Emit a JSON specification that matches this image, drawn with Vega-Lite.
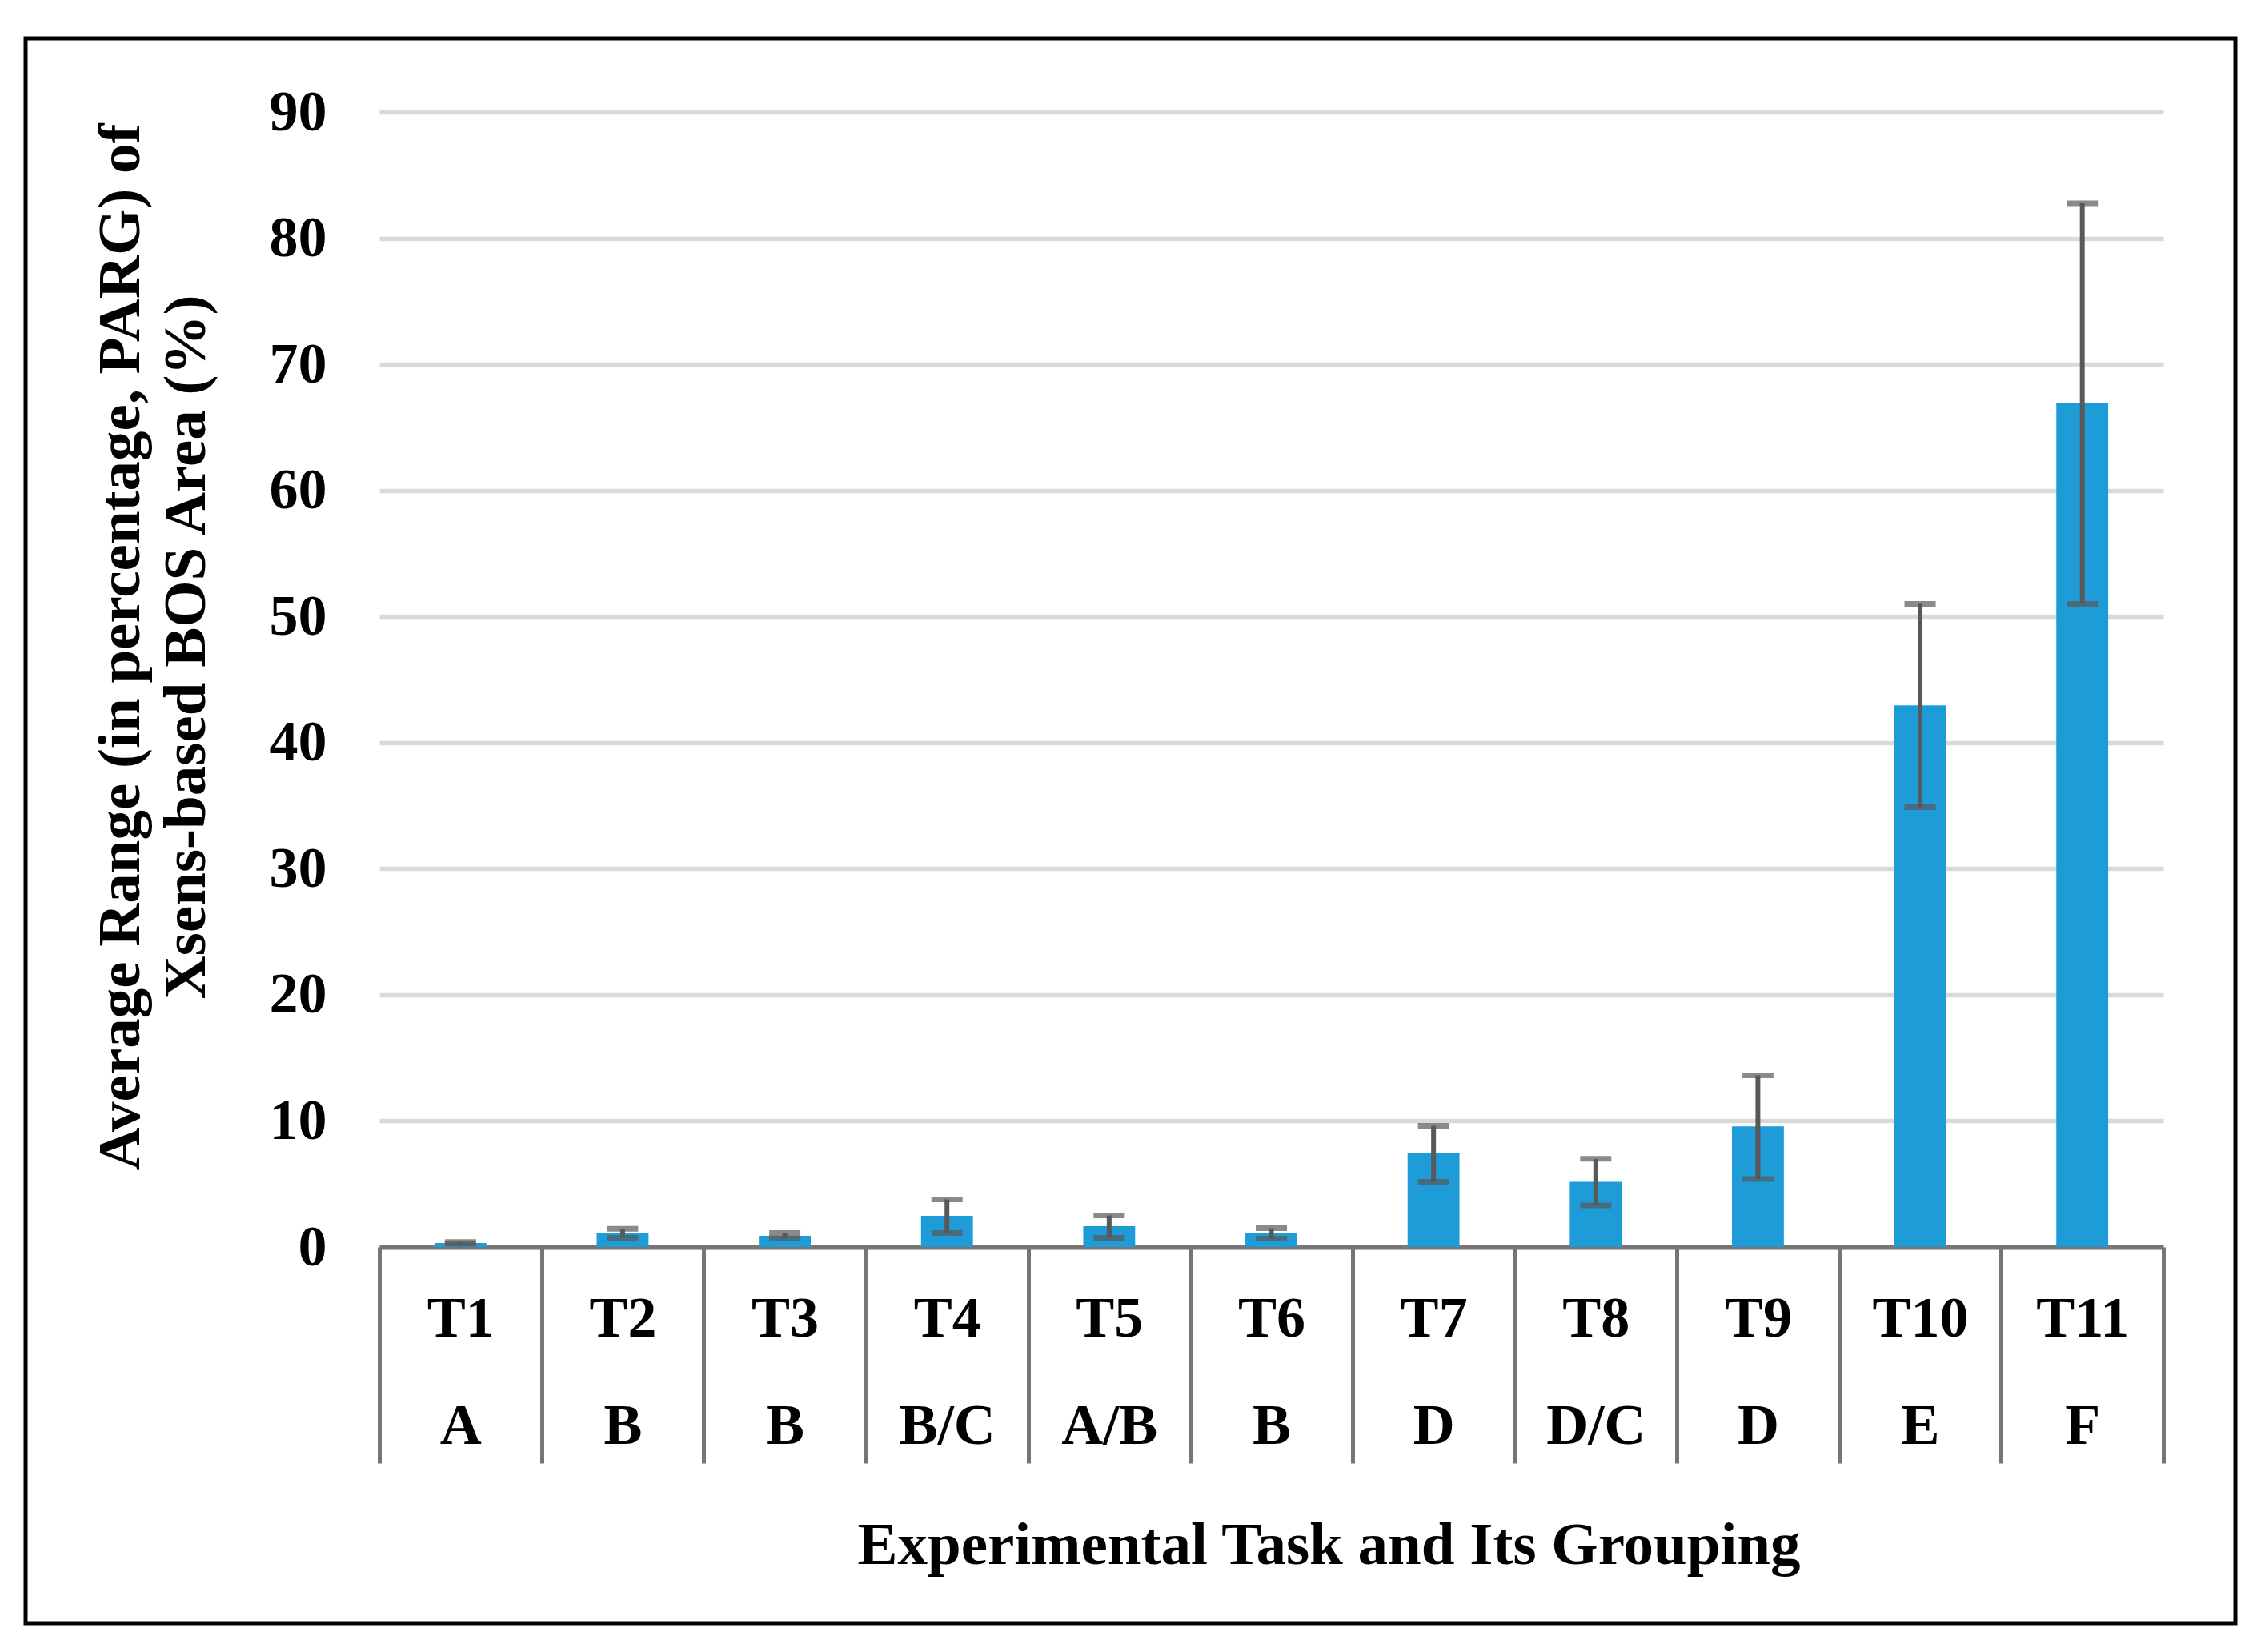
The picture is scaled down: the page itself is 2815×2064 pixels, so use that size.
{
  "$schema": "https://vega.github.io/schema/vega-lite/v6.json",
  "width": 2229,
  "height": 1418,
  "autosize": "none",
  "padding": {"left": 474, "top": 140, "right": 112, "bottom": 506},
  "background": "white",
  "config": {
    "view": {"stroke": null},
    "font": "Liberation Serif",
    "axis": {
      "labelFont": "Liberation Serif",
      "labelFontWeight": "bold",
      "labelFontSize": 72,
      "labelColor": "#000000",
      "titleFont": "Liberation Serif",
      "titleFontWeight": "bold",
      "titleFontSize": 75,
      "titleColor": "#000000"
    }
  },
  "data": {
    "values": [
      {"label": "T1|A", "task": "T1", "group": "A", "mean": 0.32, "lo": 0.25, "hi": 0.4},
      {"label": "T2|B", "task": "T2", "group": "B", "mean": 1.14, "lo": 0.73, "hi": 1.45},
      {"label": "T3|B", "task": "T3", "group": "B", "mean": 0.89, "lo": 0.69, "hi": 1.11},
      {"label": "T4|B/C", "task": "T4", "group": "B/C", "mean": 2.47, "lo": 1.11, "hi": 3.78},
      {"label": "T5|A/B", "task": "T5", "group": "A/B", "mean": 1.65, "lo": 0.73, "hi": 2.51},
      {"label": "T6|B", "task": "T6", "group": "B", "mean": 1.08, "lo": 0.67, "hi": 1.49},
      {"label": "T7|D", "task": "T7", "group": "D", "mean": 7.42, "lo": 5.17, "hi": 9.61},
      {"label": "T8|D/C", "task": "T8", "group": "D/C", "mean": 5.18, "lo": 3.3, "hi": 6.99},
      {"label": "T9|D", "task": "T9", "group": "D", "mean": 9.57, "lo": 5.4, "hi": 13.62},
      {"label": "T10|E", "task": "T10", "group": "E", "mean": 42.95, "lo": 34.87, "hi": 51.0},
      {"label": "T11|F", "task": "T11", "group": "F", "mean": 66.94, "lo": 51.0, "hi": 82.77}
    ]
  },
  "layer": [
    {
      "mark": {"type": "bar", "color": "#1D9CD8", "width": {"band": 0.32}},
      "encoding": {
        "x": {
          "field": "label",
          "type": "nominal",
          "sort": null,
          "scale": {"paddingInner": 0, "paddingOuter": 0},
          "axis": {
            "title": "Experimental Task and Its Grouping",
            "titleX": 1186,
            "titleY": 395,
            "titleAlign": "center",
            "titleBaseline": "alphabetic",
            "labelExpr": "split(datum.label, '|')",
            "labelAngle": 0,
            "labelAlign": "center",
            "labelBaseline": "top",
            "labelLineHeight": 134,
            "labelPadding": -216,
            "labelOverlap": false,
            "labelBound": false,
            "tickBand": "extent",
            "tickSize": 270,
            "tickWidth": 5,
            "tickColor": "#7A7574",
            "domainColor": "#7A7574",
            "domainWidth": 6,
            "grid": false
          }
        },
        "y": {
          "field": "mean",
          "type": "quantitative",
          "scale": {"domain": [0, 90], "nice": false},
          "axis": {
            "title": ["Average Range (in percentage, PARG) of", "Xsens-based BOS Area (%)"],
            "titleAngle": -90,
            "titleX": -360,
            "titleY": 668,
            "titleAlign": "center",
            "titleBaseline": "top",
            "titleLineHeight": 82,
            "values": [0, 10, 20, 30, 40, 50, 60, 70, 80, 90],
            "labelPadding": 66,
            "labelBaseline": "middle",
            "ticks": false,
            "domain": false,
            "grid": true,
            "gridColor": "#D9D9D9",
            "gridWidth": 5.5
          }
        }
      }
    },
    {
      "mark": {"type": "rule", "color": "#595959", "strokeWidth": 6},
      "encoding": {
        "x": {"field": "label", "type": "nominal", "sort": null},
        "y": {"field": "lo", "type": "quantitative"},
        "y2": {"field": "hi"}
      }
    },
    {
      "mark": {"type": "tick", "color": "#595959", "size": 39, "thickness": 7},
      "encoding": {
        "x": {"field": "label", "type": "nominal", "sort": null},
        "y": {"field": "lo", "type": "quantitative"}
      }
    },
    {
      "mark": {"type": "tick", "color": "#595959", "size": 39, "thickness": 7},
      "encoding": {
        "x": {"field": "label", "type": "nominal", "sort": null},
        "y": {"field": "hi", "type": "quantitative"}
      }
    },
    {
      "data": {"values": [{"frame": "border"}]},
      "mark": {"type": "rect", "fill": null, "stroke": "#000000", "strokeWidth": 5, "clip": false},
      "encoding": {
        "x": {"value": -442},
        "x2": {"value": 2319},
        "y": {"value": -92},
        "y2": {"value": 1888}
      }
    }
  ]
}
